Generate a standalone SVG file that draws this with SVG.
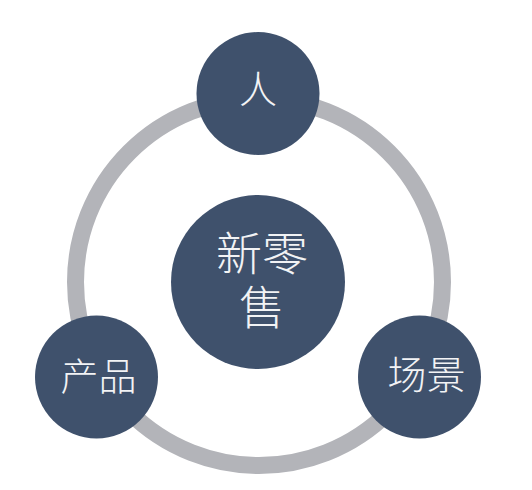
<svg xmlns="http://www.w3.org/2000/svg" width="532" height="490" viewBox="0 0 532 490">
<style>
.node{fill:#3f516c}
.lbl{fill:#f2f3f5;font-family:"Noto Sans CJK SC","Noto Sans",sans-serif;font-weight:300;text-anchor:middle}
.ring{fill:none;stroke:#b3b4b9;stroke-width:17}
</style>
<rect width="532" height="490" fill="#ffffff"/>
<g id="connectors">
<circle class="ring" cx="259" cy="282" r="183.5"/>
</g>
<g id="node-center">
<circle class="node" cx="258" cy="282" r="87"/>
<text class="lbl" font-size="46"><tspan x="262" y="270">新零</tspan><tspan x="262" y="324">售</tspan></text>
</g>
<g id="node-ren">
<circle class="node" cx="258" cy="93.5" r="61.5"/>
<text class="lbl" x="258" y="103" font-size="38">人</text>
</g>
<g id="node-chanpin">
<circle class="node" cx="96.5" cy="377" r="61.5"/>
<text class="lbl" x="98.5" y="390" font-size="38">产品</text>
</g>
<g id="node-changjing">
<circle class="node" cx="419.5" cy="377" r="61.5"/>
<text class="lbl" x="426.5" y="389" font-size="39">场景</text>
</g>
</svg>
